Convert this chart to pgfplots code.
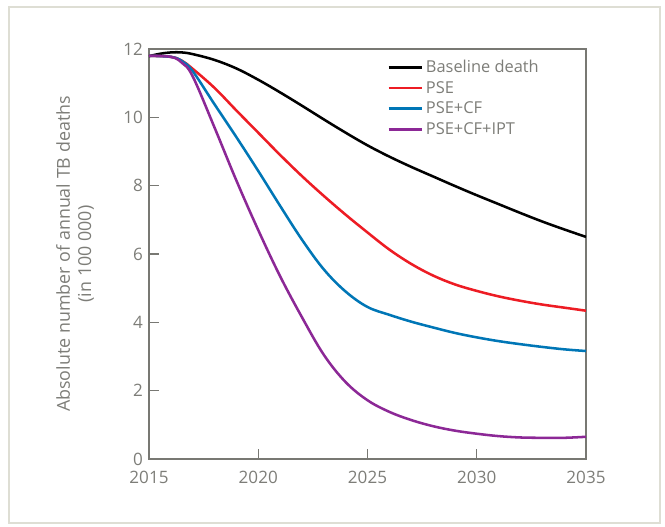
\documentclass[border=0pt]{standalone}
\usepackage{pgfplots}
\pgfplotsset{compat=1.18}
\usepackage{fontspec}
\setmainfont{Open Sans}
\definecolor{txtgray}{RGB}{125,125,120}
\definecolor{axgray}{RGB}{120,120,115}
\definecolor{framecol}{RGB}{222,222,212}
\definecolor{cred}{RGB}{237,28,36}
\definecolor{cblue}{RGB}{0,118,182}
\definecolor{cpurple}{RGB}{140,40,150}
\begin{document}
\begin{tikzpicture}
\useasboundingbox (0,0) rectangle (498.75pt,394.5pt);
\draw[framecol, line width=1.2pt] (6.75pt,2.25pt) rectangle (495pt,389.25pt);
\begin{axis}[
  at={(111.75pt,50.25pt)}, anchor=south west,
  scale only axis, width=327.75pt, height=307.5pt,
  xmin=2015, xmax=2035, ymin=0, ymax=12,
  xtick={2015,2020,...,2035}, ytick={0,2,...,12},
  xtick pos=bottom, ytick pos=left, tick align=inside,
  major tick length=7.5pt,
  axis line style={axgray, line width=1.1pt},
  tick style={axgray, line width=0.9pt},
  /pgf/number format/assume math mode=true,
  /pgf/number format/1000 sep={},
  tick label style={font=\fontsize{12.8}{15}\selectfont, text=txtgray},
  xticklabel style={yshift=-5.5pt},
  yticklabel style={xshift=-1pt},
  ylabel={Absolute number of annual TB deaths\\(in 100~000)},
  ylabel style={at={(axis description cs:-0.169,0.5)}, anchor=center, align=center, font=\fontsize{13.4}{16}\selectfont, text=txtgray},
  legend style={draw=none, fill=none, at={(axis description cs:0.545,0.98)}, anchor=north west, font=\fontsize{12.3}{15}\selectfont, text=txtgray, row sep=1pt, inner sep=0pt},
  legend cell align=left,
  legend image code/.code={\draw[#1] (0pt,0pt) -- (25pt,0pt);},
  every axis plot/.append style={line width=1.9pt, smooth, tension=0.6},
]
\addplot[black] coordinates {
(2015,11.79) (2015.5,11.86) (2016,11.9) (2016.5,11.9) (2017,11.85) (2018,11.68) (2019,11.43) (2020,11.1) (2021,10.73) (2022,10.34) (2023,9.94) (2024,9.55) (2025,9.18) (2026,8.85) (2027,8.55) (2028,8.27) (2029,7.99) (2030,7.72) (2031,7.46) (2032,7.2) (2033,6.95) (2034,6.72) (2035,6.5)};
\addlegendentry{Baseline death}
\addplot[cred] coordinates {
(2015,11.8) (2016,11.77) (2016.5,11.66) (2017,11.42) (2018,10.86) (2019,10.2) (2020,9.55) (2021,8.9) (2022,8.28) (2023,7.7) (2024,7.15) (2025,6.63) (2026,6.13) (2027,5.71) (2028,5.37) (2029,5.11) (2030,4.92) (2031,4.76) (2032,4.63) (2033,4.52) (2034,4.43) (2035,4.34)};
\addlegendentry{PSE}
\addplot[cblue] coordinates {
(2015,11.8) (2016,11.77) (2016.5,11.65) (2017,11.35) (2018,10.38) (2019,9.42) (2020,8.43) (2021,7.41) (2022,6.42) (2023,5.55) (2024,4.9) (2025,4.45) (2026,4.22) (2027,4.02) (2028,3.85) (2029,3.69) (2030,3.56) (2031,3.45) (2032,3.36) (2033,3.28) (2034,3.21) (2035,3.16)};
\addlegendentry{PSE+CF}
\addplot[cpurple] coordinates {
(2015,11.8) (2016,11.77) (2016.5,11.6) (2017,11.2) (2018,9.7) (2019,8.15) (2020,6.7) (2021,5.35) (2022,4.15) (2023,3.05) (2024,2.25) (2025,1.72) (2026,1.38) (2027,1.14) (2028,0.96) (2029,0.83) (2030,0.74) (2031,0.67) (2032,0.63) (2033,0.62) (2034,0.62) (2035,0.65)};
\addlegendentry{PSE+CF+IPT}
\end{axis}
\end{tikzpicture}
\end{document}
